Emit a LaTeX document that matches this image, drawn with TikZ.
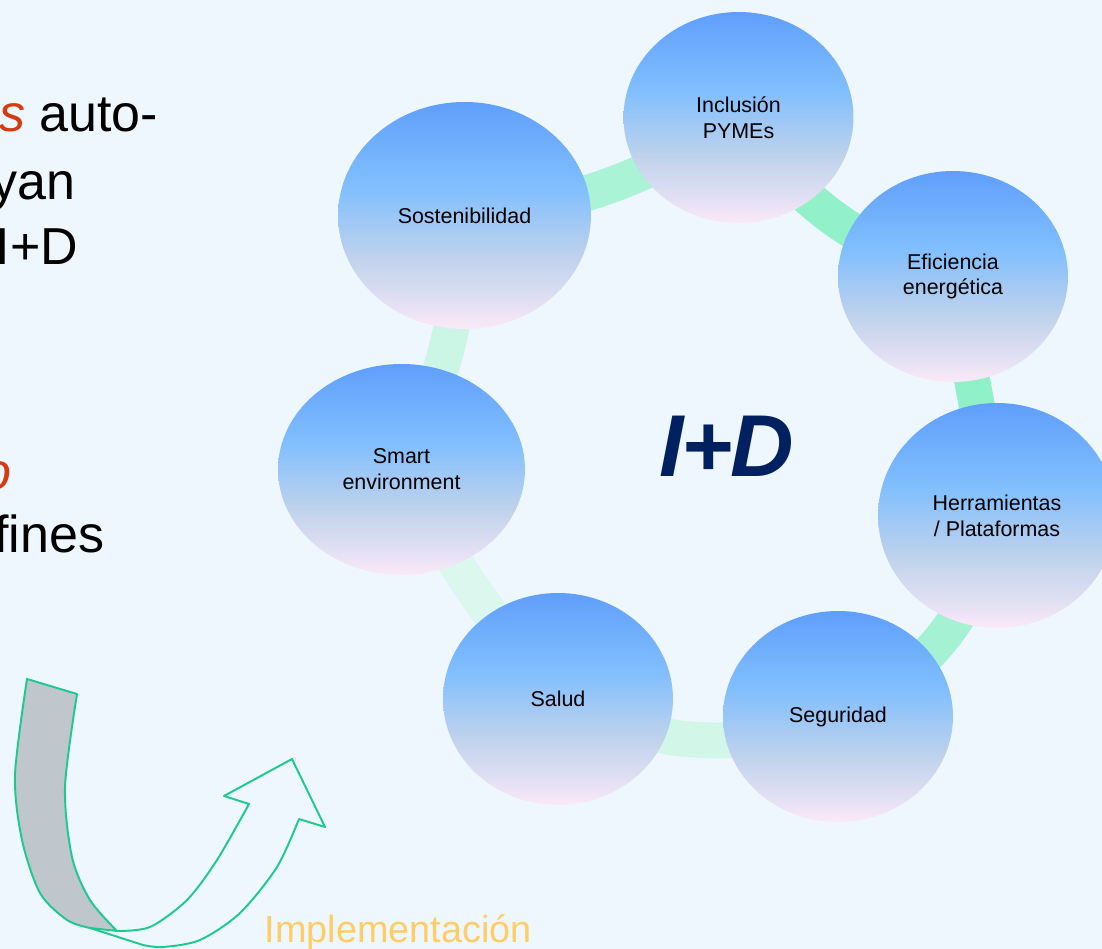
\documentclass[tikz,border=0pt]{standalone}
\usepackage{fontspec}
\setmainfont{Liberation Sans}
\usepackage{xcolor}
\usepackage{tikz}
\usetikzlibrary{shapes.geometric,backgrounds}

\definecolor{fondo}{HTML}{EEF7FE}
\definecolor{rosa}{HTML}{FBE9F8}
\definecolor{rosagris}{HTML}{DEDEF2}
\definecolor{azulgris}{HTML}{BED2EC}
\definecolor{azulmedio}{HTML}{82BFFD}
\definecolor{azularriba}{HTML}{5F9FFC}
\definecolor{marino}{HTML}{002060}
\definecolor{rojo}{HTML}{D63A10}
\definecolor{amarillo}{HTML}{FFCC66}
\definecolor{verdeborde}{HTML}{1DC98F}
\definecolor{gris}{HTML}{BFC7CC}
\definecolor{mentaA}{HTML}{AAF3D6}
\definecolor{mentaB}{HTML}{93F1C9}
\definecolor{mentaC}{HTML}{90F0C8}
\definecolor{mentaD}{HTML}{A5F1D3}
\definecolor{mentaE}{HTML}{D2F7E8}
\definecolor{mentaF}{HTML}{DCF8EE}
\definecolor{mentaG}{HTML}{CBF6E5}

\pgfdeclareverticalshading{degradado}{100bp}{color(0bp)=(rosa); color(25bp)=(rosa); color(32bp)=(rosagris); color(41bp)=(azulgris); color(56bp)=(azulmedio); color(75bp)=(azularriba); color(100bp)=(azularriba)}

\tikzset{
  burbuja/.style={ellipse, shading=degradado, inner sep=0pt, align=center, font=\fontsize{12.2}{14.7}\selectfont},
  anillo/.style={line width=0.72cm},
  textoizq/.style={inner sep=0pt, font=\fontsize{29.6}{35}\selectfont},
  flecha/.style={draw=verdeborde, line width=1.1pt, line join=round}
}

\begin{document}
\begin{tikzpicture}[x=0.02cm,y=0.02cm]
        % Rahmen
        \useasboundingbox (0,0) rectangle (1102,949);
        % Ellipse - Sostenibilidad
        \node at (464.5,733.5) [burbuja, minimum width=5.06cm, minimum height=4.54cm] (sos) {Sostenibilidad};
        % Ellipse - Inclusion PYMEs
        \node at (738.5,831.5) [burbuja, minimum width=4.6cm, minimum height=4.22cm] (incl) {Inclusión\\PYMEs};
        % Ellipse - Eficiencia
        \node at (953,672.5) [burbuja, minimum width=4.6cm, minimum height=4.22cm] (efi) {Eficiencia\\energética};
        % Ellipse - Herramientas
        \node at (997,433.5) [burbuja, minimum width=4.76cm, minimum height=4.5cm] (herr) {Herramientas\\/ Plataformas};
        % Ellipse - Seguridad
        \node at (838,232.5) [burbuja, minimum width=4.6cm, minimum height=4.22cm] (seg) {Seguridad};
        % Ellipse - Salud
        \node at (558,250) [burbuja, minimum width=4.6cm, minimum height=4.24cm] (sal) {Salud};
        % Ellipse - Smart environment
        \node at (401.5,479.5) [burbuja, minimum width=4.94cm, minimum height=4.22cm] (sma) {Smart\\environment};
        % I+D Mitte
        \node at (727,502.5) [inner sep=0pt, text=marino, font=\fontsize{50}{60}\selectfont\bfseries\itshape] (idcentro) {I\kern-1.5pt+\kern-1pt D};
        % Text links
        \node at (158.5,817) [textoizq, anchor=base east] (linea1) {\textcolor{rojo}{\textit{s}} auto-};
        \node at (75.6,749) [textoizq, anchor=base east] (linea2) {yan};
        \node at (78.5,684) [textoizq, anchor=base east] (linea3) {I+D};
        \node at (12,459) [textoizq, anchor=base east] (linea4) {\textcolor{rojo}{\textit{o}}};
        \node at (104.5,396) [textoizq, anchor=base east] (linea5) {fines};
        % Implementacion
        \node at (264.5,6) [anchor=base west, inner sep=0pt, text=amarillo, font=\fontsize{21.5}{26}\selectfont] (impl) {Implementación};
        % Band grau
        \draw[flecha, fill=gris] (27,270) -- (77,255)
            -- plot[smooth] coordinates {(77,255) (65,162) (72,92) (90,49) (117,18)}
            -- (90,21)
            -- plot[smooth] coordinates {(90,21) (67,29) (40,56) (22,109) (15,174) (27,270)} -- cycle;
        % Pfeil nach oben
        \draw[flecha] (117,18)
            -- plot[smooth] coordinates {(117,18) (150,22) (187,49) (217,89) (249,145)}
            -- (224,153) -- (292,190) -- (325,122) -- (299,130)
            -- plot[smooth] coordinates {(299,130) (277,82) (240,36) (200,9) (163,2) (143,4)}
            -- (90,21);
        % Hintergrund und Ring
        \begin{scope}[on background layer]
            \fill[fondo] (0,0) rectangle (1102,949);
            \draw[anillo, mentaA] (sos.center) to[bend right=14] (incl.center);
            \draw[anillo, mentaB] (incl.center) to[bend right=18] (efi.center);
            \draw[anillo, mentaC] (efi.center) -- (herr.center);
            \draw[anillo, mentaD] (herr.center) to[bend left=26] (seg.center);
            \draw[anillo, mentaE] (seg.center) to[bend left=23] (sal.center);
            \draw[anillo, mentaF] (sal.center) to[bend left=6] (sma.center);
            \draw[anillo, mentaG] (sma.center) to[bend right=11] (sos.center);
        \end{scope}
    \end{tikzpicture}
\end{document}
